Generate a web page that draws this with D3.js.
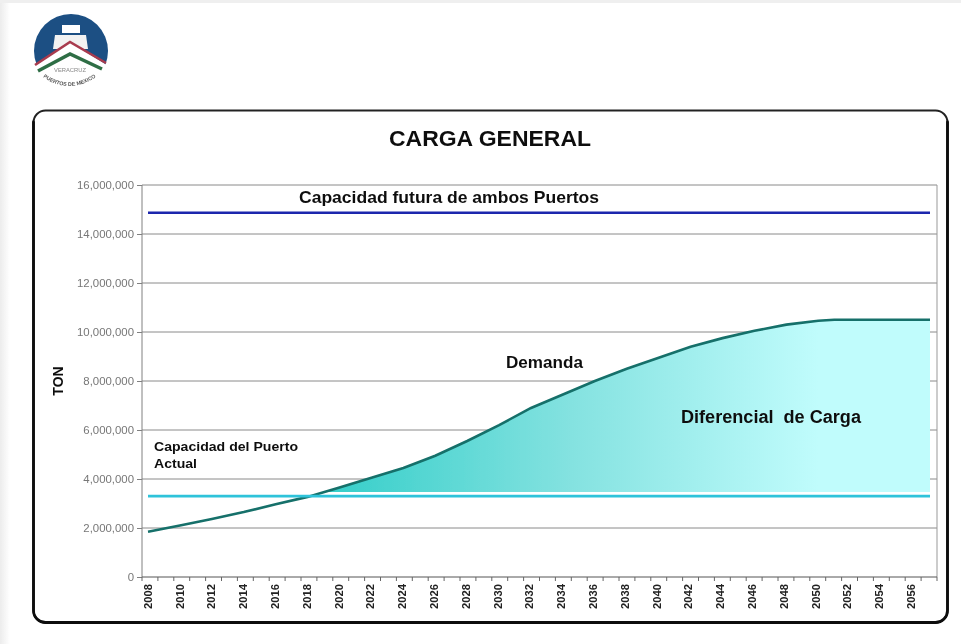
<!DOCTYPE html>
<html><head><meta charset="utf-8">
<script src="https://cdn.jsdelivr.net/npm/d3@7"></script>
<style>html,body{margin:0;padding:0;background:#fff}svg{display:block}text{font-family:"Liberation Sans",Arial,sans-serif}</style>
</head><body><svg id="c" width="961" height="644"></svg>
<script>
const years = d3.range(2008, 2058);
const demandYears = [2008,2010,2012,2014,2016,2018,2020,2022,2024,2026,2028,2030,2032,2034,2036,2038,2040,2042,2044,2046,2048,2050,2051,2057];
const demandValues = [1.85e6,2.1e6,2.37e6,2.65e6,2.97e6,3.27e6,3.65e6,4.05e6,4.45e6,4.95e6,5.55e6,6.2e6,6.9e6,7.45e6,8.0e6,8.5e6,8.95e6,9.4e6,9.75e6,10.05e6,10.3e6,10.46e6,10.5e6,10.5e6];
const currentCapacity = 3.3e6, futureCapacity = 14.87e6, fillBase = 3.47e6;
const yTicks = [0,2e6,4e6,6e6,8e6,10e6,12e6,14e6,16e6];
const demand = demandYears.map((y,i)=>({y, v:demandValues[i]}));

const svg = d3.select("#c");
const defs = svg.append("defs");
defs.append("filter").attr("id","soft").append("feGaussianBlur").attr("stdDeviation",0.55);
const edge = defs.append("linearGradient").attr("id","edge");
edge.append("stop").attr("offset",0).attr("stop-color","#ececec");
edge.append("stop").attr("offset",1).attr("stop-color","#fff");
const grad = defs.append("linearGradient").attr("id","fillG").attr("gradientUnits","userSpaceOnUse");

const root = svg.append("g").attr("filter","url(#soft)");
root.append("rect").attr("width",961).attr("height",644).attr("fill","#fff");
root.append("rect").attr("width",10).attr("height",644).attr("fill","url(#edge)");
root.append("rect").attr("width",961).attr("height",3).attr("fill","#efefef");

// logo
const logo = root.append("g");
logo.append("circle").attr("cx",71).attr("cy",51).attr("r",37).attr("fill","#1b4f83");
logo.append("path").attr("d","M62 25h18v8h-18z").attr("fill","#fff");
logo.append("path").attr("d","M55 35h31l2 14h-35z").attr("fill","#f2f2f2");
logo.append("path").attr("d","M30 69 L70 42 L110 67 L112 100 L28 100Z").attr("fill","#fff");
logo.append("path").attr("d","M35 65 L70 42 L106 63").attr("fill","none").attr("stroke","#a83a4e").attr("stroke-width",2.6);
logo.append("path").attr("d","M38 71 L70 54 L102 69").attr("fill","none").attr("stroke","#2f6e45").attr("stroke-width",3.5);
logo.append("text").attr("x",70).attr("y",72).attr("text-anchor","middle").attr("font-size",5.8).attr("fill","#888").text("VERACRUZ");
defs.append("path").attr("id","arcLogo").attr("d","M43 77 Q70 96 99 75");
logo.append("text").attr("font-size",5.3).attr("font-weight","bold").attr("fill","#555").append("textPath").attr("href","#arcLogo").text("PUERTOS DE MEXICO");

// frame
root.append("rect").attr("x",33.5).attr("y",110.5).attr("width",914).attr("height",512).attr("rx",12).attr("fill","#fff").attr("stroke","#222").attr("stroke-width",2);
root.append("path").attr("d","M947.5 122V610.5a12 12 0 0 1-12 12H45.5a12 12 0 0 1-12-12V122").attr("fill","none").attr("stroke","#0c0c0c").attr("stroke-width",2.8).attr("stroke-linecap","round");

const x = d3.scaleBand().domain(years).range([142,937]);
const y = d3.scaleLinear().domain([0,16e6]).range([577,185]);
const px = d3.scaleLinear().domain([2008,2057]).range([148,930]);

grad.attr("x1",px(2019)).attr("x2",px(2050)).attr("y1",0).attr("y2",0);
grad.append("stop").attr("offset",0).attr("stop-color","#34cec9");
grad.append("stop").attr("offset",0.5).attr("stop-color","#84e2e0");
grad.append("stop").attr("offset",1).attr("stop-color","#c0fcfc");

// grid
root.append("g").selectAll("line").data(yTicks.slice(1)).join("line")
  .attr("x1",142).attr("x2",937).attr("y1",d=>y(d)).attr("y2",d=>y(d)).attr("stroke","#8a8a8a").attr("stroke-width",1);

// axes
const yAxis = d3.axisLeft(y).tickValues(yTicks).tickSize(5).tickPadding(3).tickFormat(d3.format(","));
const gy = root.append("g").attr("transform","translate(142,0)").call(yAxis);
gy.selectAll("text").attr("font-size",11.4).attr("fill","#777").style("font-family","'Liberation Sans'");
gy.selectAll("line,path").attr("stroke","#808080");
gy.select("path").attr("d","M0 185V577");
root.append("line").attr("x1",937).attr("x2",937).attr("y1",185).attr("y2",577).attr("stroke","#999");

const xAxis = d3.axisBottom(x).tickValues(years.filter(d=>d%2===0)).tickSize(0).tickPadding(0);
const gx = root.append("g").attr("transform","translate(-2,577)").call(xAxis);
gx.select("path").attr("stroke","#555").attr("d","M144 0H939");
gx.selectAll("text").attr("transform","rotate(-90)").attr("text-anchor","end").attr("dy","0.35em")
  .attr("x",-7).attr("y",0).attr("font-size",11.2).attr("font-weight","bold").attr("fill","#222").style("font-family","'Liberation Sans'");
root.append("g").selectAll("line").data(d3.range(51)).join("line")
  .attr("x1",i=>142+i*x.step()).attr("x2",i=>142+i*x.step()).attr("y1",577).attr("y2",581).attr("stroke","#666");

// fill
const line = d3.line().x(d=>px(d.y)).y(d=>y(d.v));
const iy = d3.scaleLinear().domain(demandValues.slice(0,8)).range(demandYears.slice(0,8));
const startYear = iy(fillBase);
const fillPts = [{y:startYear,v:fillBase}].concat(demand.filter(d=>d.y>startYear));
root.append("path").datum(fillPts).attr("fill","url(#fillG)").attr("d",
  d3.area().x(d=>px(d.y)).y0(y(fillBase)).y1(d=>y(d.v)));

// series
root.append("path").datum(demand).attr("fill","none").attr("stroke","#15706a").attr("stroke-width",2.6).attr("d",line);
const hline = (v,col) => root.append("line").attr("x1",px(2008)).attr("x2",px(2057)).attr("y1",y(v)).attr("y2",y(v)).attr("stroke",col).attr("stroke-width",2.6);
hline(currentCapacity,"#2fc3da");
hline(futureCapacity,"#1a25ad");

// labels
const label = (t,lx,ly,fs,w) => root.append("text").attr("x",lx).attr("y",ly).attr("font-size",fs).attr("font-weight","bold").attr("fill","#111")
  .attr("textLength",w).attr("lengthAdjust","spacingAndGlyphs").style("white-space","pre").text(t);
label("CARGA GENERAL",389,146,22.5,202);
label("Capacidad futura de ambos Puertos",299,203,17,300);
label("Demanda",506,368,16.5,77);
label("Diferencial  de Carga",681,423,17.5,180);
label("Capacidad del Puerto",154,451,13.4,144);
label("Actual",154,468,13.4,43);
root.append("text").attr("transform","translate(63,381) rotate(-90)").attr("text-anchor","middle").attr("font-size",14).attr("font-weight","bold").attr("fill","#111").text("TON");
</script></body></html>
